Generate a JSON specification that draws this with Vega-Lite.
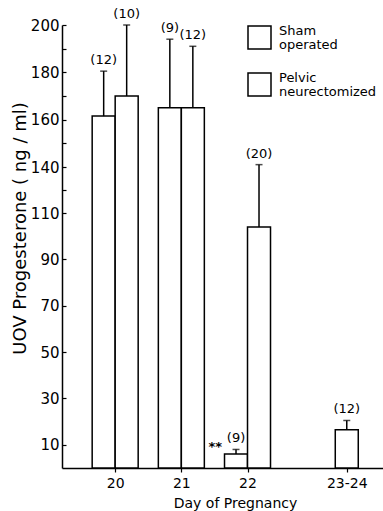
{
  "$schema": "https://vega.github.io/schema/vega-lite/v6.json",
  "width": 321,
  "height": 443,
  "autosize": {"type": "none"},
  "padding": {"left": 62, "top": 25, "right": 0, "bottom": 43},
  "background": "white",
  "config": {
    "font": "DejaVu Sans",
    "view": {"stroke": null},
    "axis": {"grid": false, "domainColor": "black", "tickColor": "black", "labelColor": "black", "titleColor": "black", "domainWidth": 1.5, "tickWidth": 1.2, "titleFontWeight": "normal"}
  },
  "data": {
    "values": [
      {"day": 20, "group": "Sham operated", "mean": 161.5, "upper": 180.5, "n": "(12)", "sig": ""},
      {"day": 20, "group": "Pelvic neurectomized", "mean": 170, "upper": 200, "n": "(10)", "sig": ""},
      {"day": 21, "group": "Sham operated", "mean": 165, "upper": 194, "n": "(9)", "sig": ""},
      {"day": 21, "group": "Pelvic neurectomized", "mean": 165, "upper": 191, "n": "(12)", "sig": ""},
      {"day": 22, "group": "Sham operated", "mean": 6, "upper": 8, "n": "(9)", "sig": "**"},
      {"day": 22, "group": "Pelvic neurectomized", "mean": 104, "upper": 141, "n": "(20)", "sig": ""},
      {"day": 23.5, "group": "Pelvic neurectomized", "mean": 16.5, "upper": 20.5, "n": "(12)", "sig": ""}
    ]
  },
  "encoding": {
    "x": {
      "field": "day", "type": "quantitative",
      "scale": {"domain": [19.272, 23.972], "nice": false, "zero": false},
      "axis": {
        "values": [20, 21, 22, 23.5],
        "labelExpr": "datum.value == 23.5 ? '23-24' : datum.label",
        "title": "Day  of  Pregnancy",
        "titleFontSize": 14, "labelFontSize": 14,
        "tickSize": 4, "labelPadding": 4, "titlePadding": 6,
        "titleX": 173
      }
    },
    "y": {
      "field": "mean", "type": "quantitative", "stack": null,
      "scale": {"domain": [0, 110, 140, 200], "range": [443, 188, 142, 0], "nice": false, "zero": false},
      "axis": {
        "values": [10, 30, 50, 70, 90, 110, 125, 140, 150, 160, 170, 180, 190, 200],
        "labelExpr": "indexof([125,150,170,190], datum.value) >= 0 ? '' : datum.label",
        "title": "UOV  Progesterone  ( ng / ml)",
        "titleFontSize": 18, "labelFontSize": 15,
        "tickSize": -4, "labelPadding": 7,
        "titleX": -42, "titleY": 203, "titleBaseline": "middle"
      }
    }
  },
  "layer": [
    {
      "mark": {"type": "bar", "orient": "vertical", "width": 23, "stroke": "black", "strokeWidth": 1.5,
        "xOffset": {"expr": "datum.group == 'Pelvic neurectomized' ? (datum.day == 23.5 ? 0 : 11.5) : -11.5"}},
      "encoding": {
        "fill": {
          "field": "group", "type": "nominal",
          "scale": {"domain": ["Sham operated", "Pelvic neurectomized"], "range": ["white", "white"]},
          "legend": {
            "title": null, "orient": "none", "legendX": 185, "legendY": 0, "padding": 0,
            "symbolType": "square", "symbolSize": 529, "symbolStrokeColor": "black", "symbolStrokeWidth": 1.5, "symbolFillColor": "white",
            "labelFontSize": 13, "labelColor": "black", "labelOffset": 7, "rowPadding": 18,
            "labelExpr": "datum.label == 'Sham operated' ? ['Sham', 'operated'] : ['Pelvic', 'neurectomized']",
            "encode": {"labels": {"update": {"dy": {"value": -7}, "lineHeight": {"value": 14}}}}
          }
        }
      }
    },
    {
      "mark": {"type": "rule", "color": "black", "strokeWidth": 1.5,
        "xOffset": {"expr": "datum.group == 'Pelvic neurectomized' ? (datum.day == 23.5 ? 0 : 11.5) : -11.5"}},
      "encoding": {"y2": {"field": "upper"}}
    },
    {
      "mark": {"type": "tick", "orient": "horizontal", "color": "black", "size": 7, "thickness": 1.5,
        "xOffset": {"expr": "datum.group == 'Pelvic neurectomized' ? (datum.day == 23.5 ? 0 : 11.5) : -11.5"}},
      "encoding": {"y": {"field": "upper", "type": "quantitative"}}
    },
    {
      "mark": {"type": "text", "baseline": "bottom", "dy": -4, "fontSize": 13, "color": "black",
        "xOffset": {"expr": "datum.group == 'Pelvic neurectomized' ? (datum.day == 23.5 ? 0 : 11.5) : -11.5"}},
      "encoding": {"y": {"field": "upper", "type": "quantitative"}, "text": {"field": "n"}}
    },
    {
      "transform": [{"filter": "datum.sig != ''"}],
      "mark": {"type": "text", "align": "right", "baseline": "middle", "dx": -14, "dy": -2, "fontSize": 13, "fontWeight": "bold", "color": "black",
        "xOffset": {"expr": "datum.group == 'Pelvic neurectomized' ? (datum.day == 23.5 ? 0 : 11.5) : -11.5"}},
      "encoding": {"y": {"field": "upper", "type": "quantitative"}, "text": {"field": "sig"}}
    }
  ]
}
